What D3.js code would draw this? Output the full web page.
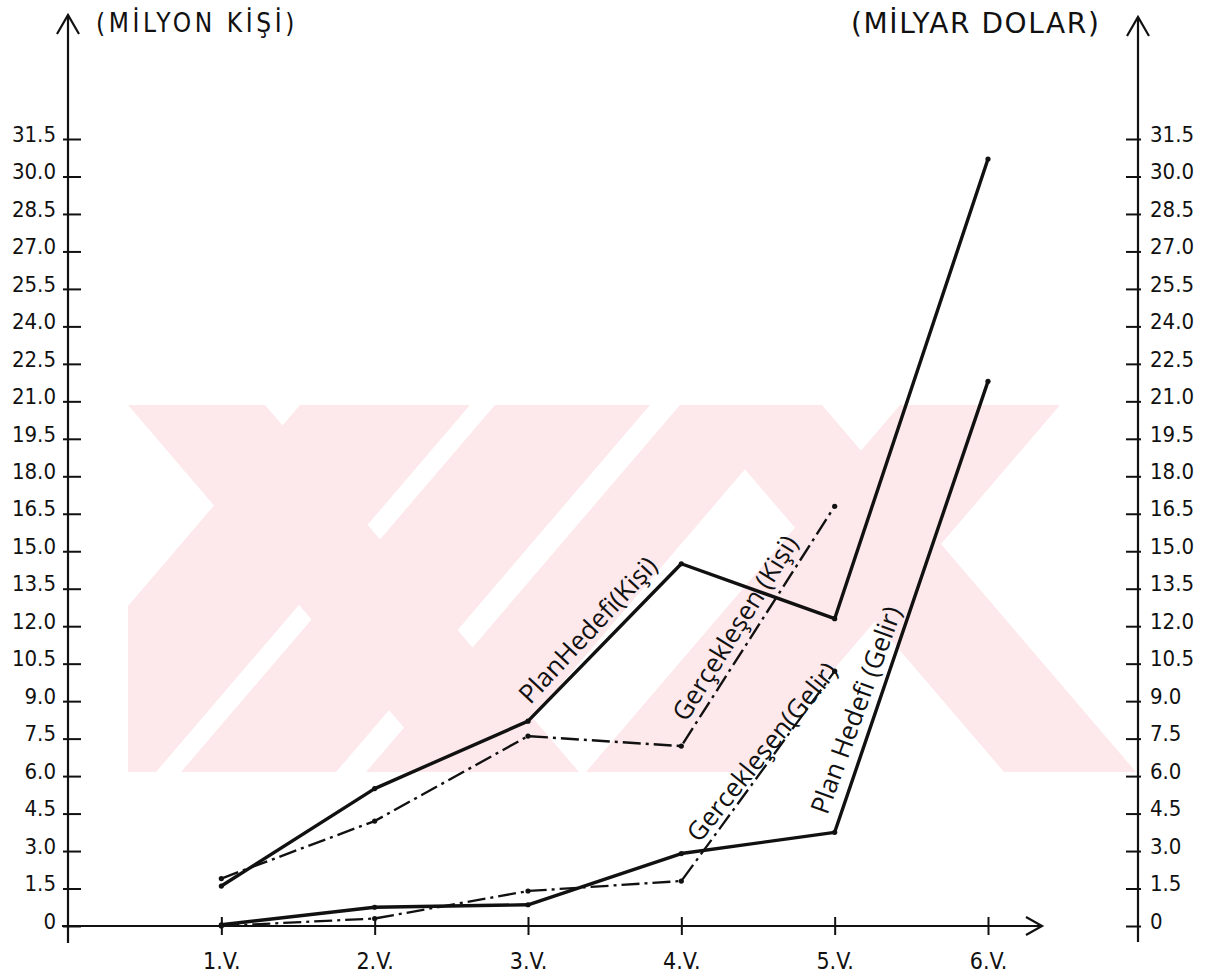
<!DOCTYPE html>
<html><head><meta charset="utf-8">
<script src="https://cdn.jsdelivr.net/npm/d3@7"></script>
<style>
html,body{margin:0;padding:0;background:#fff;}
svg{display:block;}
</style></head>
<body>
<svg id="chart" width="1213" height="978"></svg>
<script>
// ---- DATA ----
const periods = ["1.V.", "2.V.", "3.V.", "4.V.", "5.V.", "6.V."];
const yTickValues = [0, 1.5, 3.0, 4.5, 6.0, 7.5, 9.0, 10.5, 12.0, 13.5, 15.0, 16.5, 18.0, 19.5, 21.0, 22.5, 24.0, 25.5, 27.0, 28.5, 30.0, 31.5];
const yTickLabels = ["0", "1.5", "3.0", "4.5", "6.0", "7.5", "9.0", "10.5", "12.0", "13.5", "15.0", "16.5", "18.0", "19.5", "21.0", "22.5", "24.0", "25.5", "27.0", "28.5", "30.0", "31.5"];
const planKisi = [1.6, 5.5, 8.2, 14.5, 12.3, 30.7];
const gercekKisi = [1.9, 4.2, 7.6, 7.2, 16.8];
const planGelir = [0.05, 0.75, 0.85, 2.9, 3.75, 21.8];
const gercekGelir = [0.0, 0.3, 1.4, 1.8, 10.2];
const leftTitle = "(MİLYON KİŞİ)";
const rightTitle = "(MİLYAR DOLAR)";
const seriesLabels = ["PlanHedefi(Kişi)", "Gerçekleşen (Kişi)", "Gercekleşen(Gelir)", "Plan Hedefi (Gelir)"];

// ---- SETUP ----
const svg = d3.select("#chart");
const x = d3.scaleLinear().domain([0, 6]).range([68, 988]);
const y = d3.scaleLinear().domain([0, 31.5]).range([926, 139]);
const leftX = 68, rightX = 1138;
const ink = "#111";
const fontTick = "'DejaVu Sans Condensed','DejaVu Sans',sans-serif";

// watermark (pale pink diagonal striped logo)
svg.append("clipPath").attr("id", "wmclip").append("rect")
  .attr("x", 128).attr("y", 405).attr("width", 1008).attr("height", 367);
const wm = svg.append("g").attr("clip-path", "url(#wmclip)");
const H = 367, k = 314; // horizontal run of a diagonal over the band height
function back(x0, x1) { return [[x0,405],[x1,405],[x1+k,772],[x0+k,772]]; }   // "\"
function fwd(x0, x1) { return [[x0,405],[x1,405],[x1-k,772],[x0-k,772]]; }    // "/"
const bands = [
  back(128, 265), fwd(300, 470), fwd(495, 650), fwd(680, 800),
  fwd(900, 1060), back(690, 822)
];
wm.selectAll("polygon").data(bands).join("polygon")
  .attr("fill", "#fde8eb")
  .attr("points", d => d.map(p => p.join(",")).join(" "));

// left axis
const leftAxis = d3.axisLeft(y).tickValues(yTickValues)
  .tickFormat((d, i) => yTickLabels[i]).tickSize(-13).tickPadding(12);
const gL = svg.append("g").attr("transform", `translate(${leftX},0)`).call(leftAxis);
gL.select(".domain").remove();
gL.selectAll(".tick line").attr("x1", -5).attr("stroke", ink).attr("stroke-width", 2);
gL.selectAll(".tick text").attr("font-family", fontTick)
  .attr("font-size", 22).attr("fill", ink).attr("dy", "0.1em");

// right axis
const rightAxis = d3.axisRight(y).tickValues(yTickValues)
  .tickFormat((d, i) => yTickLabels[i]).tickSize(-12).tickPadding(12);
const gR = svg.append("g").attr("transform", `translate(${rightX},0)`).call(rightAxis);
gR.select(".domain").remove();
gR.selectAll(".tick line").attr("x1", 3).attr("stroke", ink).attr("stroke-width", 2);
gR.selectAll(".tick text").attr("font-family", fontTick)
  .attr("font-size", 22).attr("fill", ink).attr("dy", "0.1em");

// x axis
const xAxis = d3.axisBottom(x).tickValues([1,2,3,4,5,6])
  .tickFormat(d => periods[d - 1]).tickSize(9).tickPadding(18);
const gX = svg.append("g").attr("transform", `translate(0,${y(0)})`).call(xAxis);
gX.select(".domain").remove();
gX.selectAll(".tick line").attr("y1", -9).attr("stroke", ink).attr("stroke-width", 2);
gX.selectAll(".tick text").attr("font-family", fontTick)
  .attr("font-size", 23).attr("fill", ink);

// axis lines with arrows
const axG = svg.append("g").attr("stroke", ink).attr("stroke-width", 2.2).attr("fill", "none");
axG.append("line").attr("x1", leftX).attr("x2", leftX).attr("y1", 943).attr("y2", 15);
axG.append("polyline").attr("points", `${leftX-11},34 ${leftX},15 ${leftX+11},34`);
axG.append("line").attr("x1", rightX).attr("x2", rightX).attr("y1", 942).attr("y2", 17);
axG.append("polyline").attr("points", `${rightX-11},36 ${rightX},17 ${rightX+11},36`);
axG.append("line").attr("x1", 62).attr("x2", 1042).attr("y1", y(0)).attr("y2", y(0));
axG.append("polyline").attr("points", `1026,${y(0)-9} 1042,${y(0)} 1026,${y(0)+9}`);

// axis titles
svg.append("text").attr("x", 96).attr("y", 32).text(leftTitle)
  .attr("font-family", fontTick).attr("font-size", 26)
  .attr("letter-spacing", 3.6).attr("fill", ink);
svg.append("text").attr("x", 851).attr("y", 33).text(rightTitle)
  .attr("font-family", "'DejaVu Sans',sans-serif").attr("font-size", 28)
  .attr("letter-spacing", 1.6).attr("fill", ink);

// series
const line = d3.line().x((d, i) => x(i + 1)).y(d => y(d));
const series = [
  {data: planKisi, w: 3.4, dash: null},
  {data: gercekKisi, w: 2.4, dash: "18,5,3,5"},
  {data: planGelir, w: 3.4, dash: null},
  {data: gercekGelir, w: 2.3, dash: "18,5,3,5"}
];
series.forEach(s => {
  svg.append("path").datum(s.data).attr("d", line)
    .attr("fill", "none").attr("stroke", ink).attr("stroke-width", s.w)
    .attr("stroke-dasharray", s.dash).attr("stroke-linejoin", "round");
  svg.append("g").selectAll("circle").data(s.data).join("circle")
    .attr("cx", (d, i) => x(i + 1)).attr("cy", d => y(d)).attr("r", 2.6).attr("fill", ink);
});

// rotated labels
const labelPos = [
  {cx: 588, cy: 630, a: -47},
  {cx: 735, cy: 628, a: -58},
  {cx: 762, cy: 752, a: -51},
  {cx: 856, cy: 710, a: -70}
];
svg.append("g").selectAll("text").data(labelPos).join("text")
  .attr("transform", d => `translate(${d.cx},${d.cy}) rotate(${d.a})`)
  .attr("text-anchor", "middle").attr("dy", "0.35em")
  .attr("font-family", "'Open Sans','Noto Sans',sans-serif").attr("font-size", 26)
  .attr("fill", ink).text((d, i) => seriesLabels[i]);
</script>
</body></html>
